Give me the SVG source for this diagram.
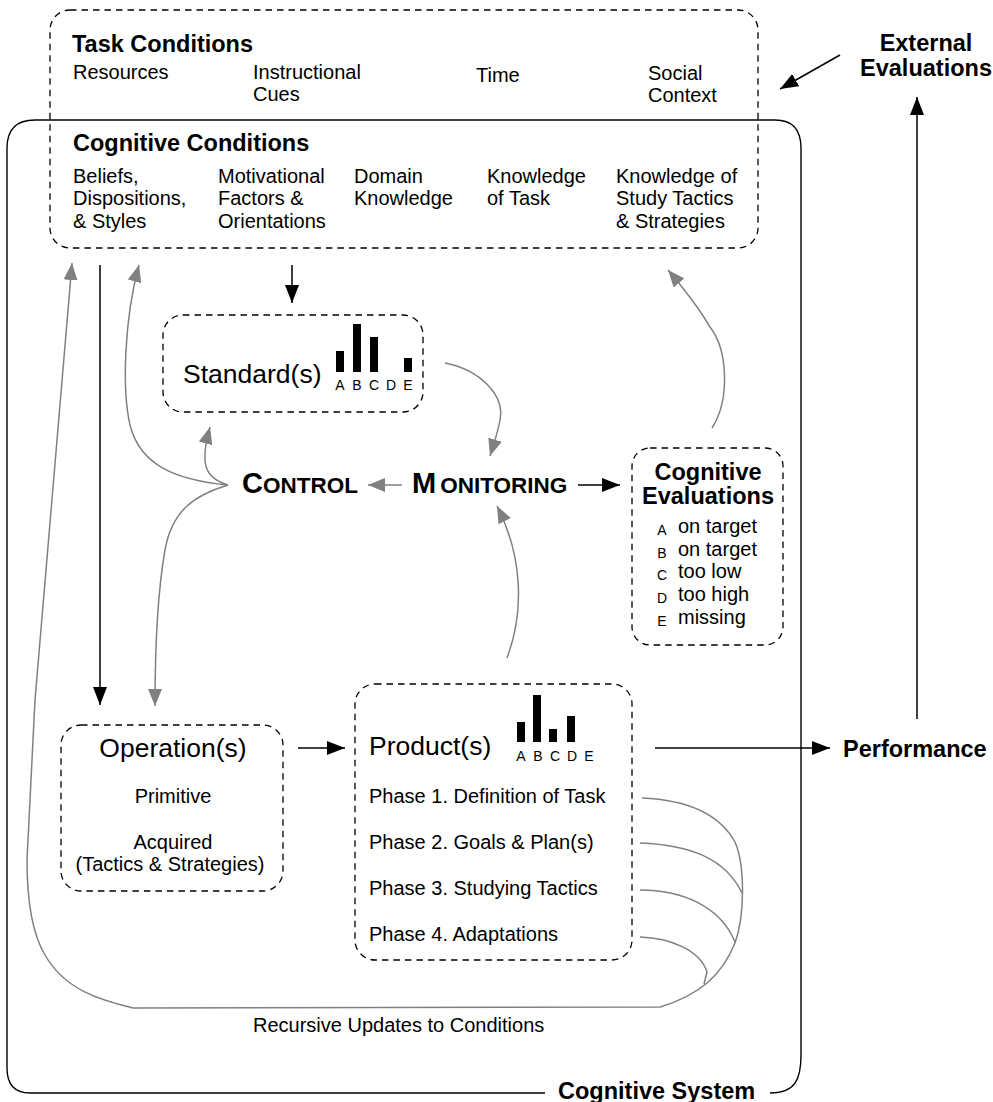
<svg xmlns="http://www.w3.org/2000/svg" width="993" height="1102" viewBox="0 0 993 1102">
<style>
text{font-family:"Liberation Sans",Arial,Helvetica,sans-serif;fill:#000}
.r{font-size:20px}
.b{font-size:23.5px;font-weight:bold}
.big{font-size:26.5px}
.sm{font-size:14px}
.dash{fill:none;stroke:#000;stroke-width:1.3;stroke-dasharray:6.5 5}
.solid{fill:none;stroke:#000;stroke-width:1.4}
.bk{fill:none;stroke:#000;stroke-width:1.5}
.gr{fill:none;stroke:#808080;stroke-width:1.5}
.bar{fill:#000}
</style>
<defs>
<marker id="ab" markerUnits="userSpaceOnUse" markerWidth="20" markerHeight="14" refX="18" refY="7" orient="auto"><path d="M0,0 L18,7 L0,14 Z" fill="#000"/></marker>
<marker id="ag" markerUnits="userSpaceOnUse" markerWidth="18" markerHeight="14" refX="17" refY="7" orient="auto"><path d="M0,0 L17,7 L0,14 Z" fill="#808080"/></marker>
</defs>

<g id="cognitive-system">
<path class="solid" d="M545 1093 H30 Q7 1093 7 1068 V148 Q7 120 35 120 H775 Q801 120 801 148 V1055 C801 1080 795 1093 770 1093"/>
<text class="b" x="558" y="1099">Cognitive System</text>
</g>

<g id="conditions">
<rect class="dash" x="50" y="10" width="708" height="238" rx="20" ry="20"/>
<text class="b" x="72" y="52">Task Conditions</text>
<text class="r" x="73" y="79">Resources</text>
<text class="r" x="253" y="79">Instructional</text>
<text class="r" x="253" y="101">Cues</text>
<text class="r" x="476" y="82">Time</text>
<text class="r" x="648" y="80">Social</text>
<text class="r" x="648" y="102">Context</text>
<text class="b" x="73" y="151">Cognitive Conditions</text>
<text class="r" x="73" y="183">Beliefs,</text>
<text class="r" x="73" y="205">Dispositions,</text>
<text class="r" x="73" y="228">&amp; Styles</text>
<text class="r" x="218" y="183">Motivational</text>
<text class="r" x="218" y="205">Factors &amp;</text>
<text class="r" x="218" y="228">Orientations</text>
<text class="r" x="354" y="183">Domain</text>
<text class="r" x="354" y="205">Knowledge</text>
<text class="r" x="487" y="183">Knowledge</text>
<text class="r" x="487" y="205">of Task</text>
<text class="r" x="616" y="183">Knowledge of</text>
<text class="r" x="616" y="205">Study Tactics</text>
<text class="r" x="616" y="228">&amp; Strategies</text>
</g>

<g id="external-evaluations">
<text class="b" x="926" y="51" text-anchor="middle">External</text>
<text class="b" x="926" y="76" text-anchor="middle">Evaluations</text>
</g>

<g id="standards">
<rect class="dash" x="163" y="315" width="260" height="97" rx="20" ry="20"/>
<text class="big" x="183" y="383">Standard(s)</text>
<rect class="bar" x="336" y="351" width="8" height="21"/>
<rect class="bar" x="353" y="324" width="8" height="48"/>
<rect class="bar" x="370" y="337" width="8" height="35"/>
<rect class="bar" x="404" y="358" width="8" height="14"/>
<text class="sm" x="340" y="390" text-anchor="middle">A</text>
<text class="sm" x="357" y="390" text-anchor="middle">B</text>
<text class="sm" x="374" y="390" text-anchor="middle">C</text>
<text class="sm" x="391" y="390" text-anchor="middle">D</text>
<text class="sm" x="408" y="390" text-anchor="middle">E</text>
</g>

<g id="control">
<text x="242" y="493" font-weight="bold"><tspan font-size="29px">C</tspan><tspan font-size="22.5px">ONTROL</tspan></text>
</g>

<g id="monitoring">
<text x="412" y="493" font-weight="bold"><tspan font-size="29px">M</tspan><tspan font-size="22.5px" dx="4">ONITORING</tspan></text>
</g>

<g id="cognitive-evaluations">
<rect class="dash" x="632" y="448" width="151" height="197" rx="18" ry="18"/>
<text class="b" x="708" y="480" text-anchor="middle">Cognitive</text>
<text class="b" x="708" y="504" text-anchor="middle">Evaluations</text>
<text class="sm" x="662" y="535" text-anchor="middle">A</text>
<text class="r" x="678" y="533">on target</text>
<text class="sm" x="662" y="558" text-anchor="middle">B</text>
<text class="r" x="678" y="556">on target</text>
<text class="sm" x="662" y="580" text-anchor="middle">C</text>
<text class="r" x="678" y="578">too low</text>
<text class="sm" x="662" y="603" text-anchor="middle">D</text>
<text class="r" x="678" y="601">too high</text>
<text class="sm" x="662" y="626" text-anchor="middle">E</text>
<text class="r" x="678" y="624">missing</text>
</g>

<g id="operations">
<rect class="dash" x="61" y="725" width="222" height="166" rx="20" ry="20"/>
<text class="big" x="173" y="757" text-anchor="middle">Operation(s)</text>
<text class="r" x="173" y="803" text-anchor="middle">Primitive</text>
<text class="r" x="173" y="849" text-anchor="middle">Acquired</text>
<text class="r" x="170" y="871" text-anchor="middle">(Tactics &amp; Strategies)</text>
</g>

<g id="products">
<rect class="dash" x="355" y="684" width="277" height="276" rx="20" ry="20"/>
<text class="big" x="369" y="755">Product(s)</text>
<rect class="bar" x="517" y="722" width="8" height="20"/>
<rect class="bar" x="533" y="695" width="8" height="47"/>
<rect class="bar" x="549" y="729" width="8" height="13"/>
<rect class="bar" x="567" y="716" width="8" height="26"/>
<text class="sm" x="521" y="761" text-anchor="middle">A</text>
<text class="sm" x="538" y="761" text-anchor="middle">B</text>
<text class="sm" x="555" y="761" text-anchor="middle">C</text>
<text class="sm" x="572" y="761" text-anchor="middle">D</text>
<text class="sm" x="589" y="761" text-anchor="middle">E</text>
<text class="r" x="369" y="803">Phase 1. Definition of Task</text>
<text class="r" x="369" y="849">Phase 2. Goals &amp; Plan(s)</text>
<text class="r" x="369" y="895">Phase 3. Studying Tactics</text>
<text class="r" x="369" y="941">Phase 4. Adaptations</text>
</g>

<g id="performance">
<text class="b" x="843" y="757">Performance</text>
</g>

<g id="recursive-label">
<text class="r" x="253" y="1032">Recursive Updates to Conditions</text>
</g>

<g id="connectors">
<path class="bk" d="M292 265 L292 303" marker-end="url(#ab)"/>
<path class="bk" d="M100 265 L100 705" marker-end="url(#ab)"/>
<path class="bk" d="M578 485 L620 485" marker-end="url(#ab)"/>
<path class="bk" d="M298 748 L345 748" marker-end="url(#ab)"/>
<path class="bk" d="M655 748 L830 748" marker-end="url(#ab)"/>
<path class="bk" d="M917 719 L917 97" marker-end="url(#ab)"/>
<path class="bk" d="M840 55 L780 89" marker-end="url(#ab)"/>

<path class="gr" d="M402 485 L368 485" marker-end="url(#ag)"/>
<path class="gr" d="M228 485 C212 480 204 472 205 455 C205 445 207 438 210 427" marker-end="url(#ag)"/>
<path class="gr" d="M228 485 C175 480 140 465 130 425 C122 390 124 320 139 265" marker-end="url(#ag)"/>
<path class="gr" d="M228 485 C195 495 172 510 165 550 C158 590 155 640 155 706" marker-end="url(#ag)"/>
<path class="gr" d="M445 363 C480 370 505 395 500 420 C498 432 494 443 490 456" marker-end="url(#ag)"/>
<path class="gr" d="M507 658 C525 610 522 555 497 506" marker-end="url(#ag)"/>
<path class="gr" d="M712 428 C730 400 728 350 710 327 C700 310 685 290 668 270" marker-end="url(#ag)"/>
<path class="gr" d="M642 798 C690 800 720 815 735 842 C745 865 745 915 735 943 C722 975 700 995 660 1007 L133 1008 C100 1000 65 990 45 955 C30 930 27 890 27 860 L35 700 L72 263" marker-end="url(#ag)"/>
<path class="gr" d="M640 843 C690 845 725 858 742 893"/>
<path class="gr" d="M640 890 C680 890 720 905 735 942"/>
<path class="gr" d="M640 937 C670 938 700 950 707 972 L704 984"/>
</g>
</svg>
